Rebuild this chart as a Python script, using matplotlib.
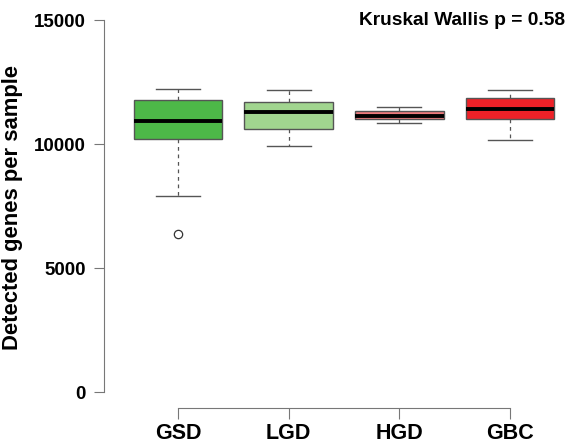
import matplotlib
matplotlib.use("Agg")
import matplotlib.pyplot as plt

plt.rcParams['font.family'] = ['Liberation Sans', 'DejaVu Sans']

# Group labels and five-number summaries (lower whisker, Q1, median, Q3, upper whisker)
groups = ["GSD", "LGD", "HGD", "GBC"]
whiskerLow = [7890, 9930, 10830, 10170]
q1 = [10200, 10590, 10995, 10995]
median = [10915, 11280, 11140, 11410]
q3 = [11775, 11680, 11320, 11840]
whiskerHigh = [12220, 12190, 11480, 12190]
outliers = [[6370], [], [], []]
colors = ["#4DB848", "#A1D58F", "#EC7A7C", "#EE2128"]

pValue = 0.58

stats = []
for i, g in enumerate(groups):
    stats.append({
        "label": g,
        "whislo": whiskerLow[i],
        "q1": q1[i],
        "med": median[i],
        "q3": q3[i],
        "whishi": whiskerHigh[i],
        "fliers": outliers[i],
    })

fig = plt.figure(figsize=(5.69, 4.46), dpi=100)
ax = fig.add_axes([0.1828, 0.0852, 0.8107, 0.8878])

bp = ax.bxp(stats, positions=[1, 2, 3, 4], widths=0.8, patch_artist=True,
            showfliers=True,
            boxprops=dict(edgecolor="#555555", linewidth=1.0),
            medianprops=dict(color="black", linewidth=2.8, solid_capstyle="butt"),
            whiskerprops=dict(color="#555555", linewidth=0.9, linestyle=(0, (3, 3))),
            capprops=dict(color="#555555", linewidth=1.0),
            flierprops=dict(marker="o", markersize=6, markerfacecolor="none",
                            markeredgecolor="#333333", markeredgewidth=0.9))
# staples half the box width
for c in bp["caps"]:
    x = c.get_xdata()
    mid = (x[0] + x[1]) / 2
    c.set_xdata([mid - 0.2, mid + 0.2])

for patch, col in zip(bp["boxes"], colors):
    patch.set_facecolor(col)

ax.set_xlim(0.331, 4.5)
ax.set_ylim(-645, 15323)

for s in ["top", "right"]:
    ax.spines[s].set_visible(False)
ax.spines["left"].set_bounds(0, 15000)
ax.spines["bottom"].set_bounds(1, 4)
ax.spines["left"].set_color("#777777")
ax.spines["bottom"].set_color("#777777")

ax.set_yticks([0, 5000, 10000, 15000])
ax.set_xticks([1, 2, 3, 4])
ax.set_xticklabels(groups)
ax.tick_params(axis="y", length=7, color="#777777", labelsize=13.5, pad=6)
ax.tick_params(axis="x", length=8, color="#777777", labelsize=15.5, pad=3)
for lbl in ax.get_xticklabels() + ax.get_yticklabels():
    lbl.set_fontweight("bold")

ax.set_ylabel("Detected genes per sample", fontsize=15.8, fontweight="bold")
ax.yaxis.set_label_coords(-0.1756, 0.506)

fig.text(0.993, 0.955, f"Kruskal Wallis p = {pValue}", ha="right", va="center",
         fontsize=13.8, fontweight="bold")

fig.savefig("out.png", dpi=100)
